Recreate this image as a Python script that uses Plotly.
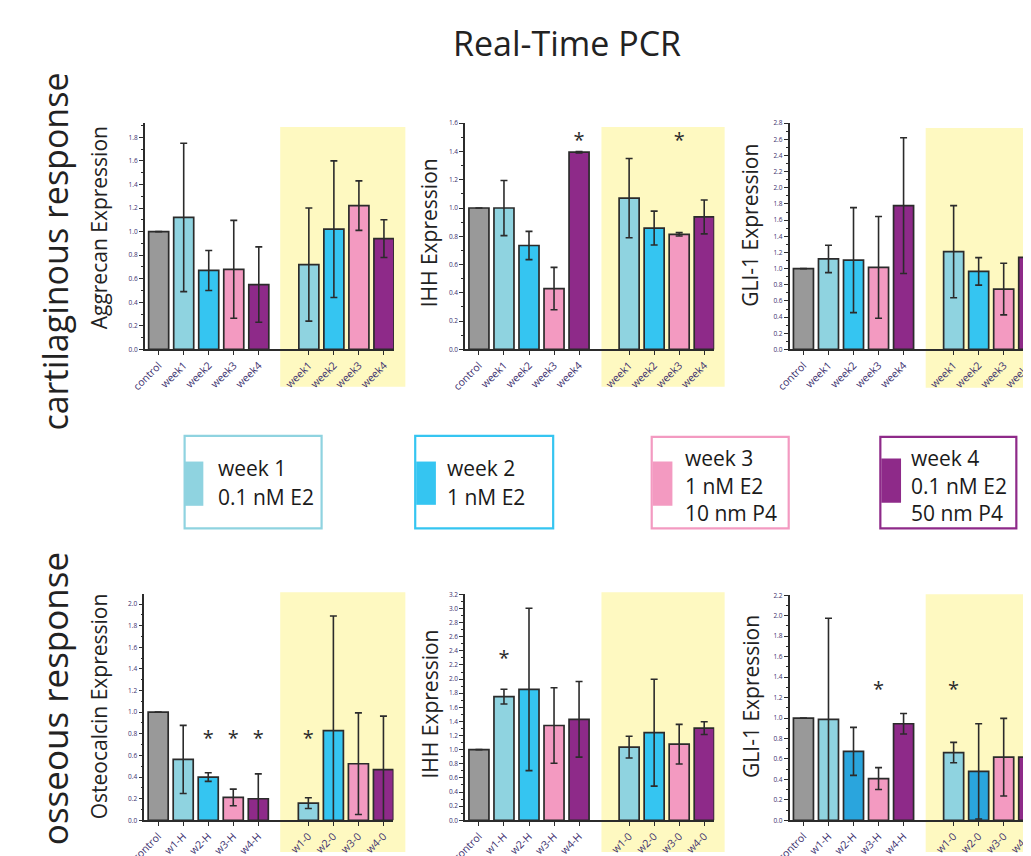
import plotly.graph_objects as go

W, H = 1031, 856
FONT = "Open Sans"

# ---------------- data ----------------
positions = [0, 1, 2, 3, 4, 6, 7, 8, 9]
labels_top = ["control", "week1", "week2", "week3", "week4", "week1", "week2", "week3", "week4"]
labels_bot = ["control", "w1-H", "w2-H", "w3-H", "w4-H", "w1-0", "w2-0", "w3-0", "w4-0"]

aggrecan_vals = [1.00, 1.12, 0.67, 0.68, 0.55, 0.72, 1.02, 1.22, 0.94]
aggrecan_err = [None, 0.63, 0.17, 0.415, 0.32, 0.48, 0.58, 0.21, 0.16]

ihh_top_vals = [1.00, 1.00, 0.735, 0.43, 1.395, 1.07, 0.858, 0.814, 0.937]
ihh_top_err = [None, 0.195, 0.10, 0.15, 0.005, 0.28, 0.12, 0.012, 0.12]
ihh_top_star_x = [4, 8]
ihh_top_star_y = [1.47, 1.47]

gli_top_vals = [1.00, 1.12, 1.105, 1.015, 1.78, 1.21, 0.966, 0.747, 1.14]
gli_top_err = [None, 0.17, 0.65, 0.63, 0.84, 0.57, 0.17, 0.32, 0.14]

osteo_vals = [1.00, 0.563, 0.40, 0.211, 0.199, 0.159, 0.829, 0.523, 0.468]
osteo_err = [None, 0.315, 0.04, 0.077, 0.23, 0.05, 1.06, 0.47, 0.495]
osteo_star_x = [2, 3, 4, 6]
osteo_star_y = [0.74, 0.74, 0.74, 0.74]

ihh_bot_vals = [1.00, 1.751, 1.853, 1.342, 1.43, 1.036, 1.24, 1.078, 1.305]
ihh_bot_err = [None, 0.105, 1.15, 0.535, 0.535, 0.155, 0.757, 0.28, 0.09]
ihh_bot_star_x = [1]
ihh_bot_star_y = [2.27]

gli_bot_vals = [1.00, 0.986, 0.674, 0.408, 0.944, 0.662, 0.478, 0.617, 0.617]
gli_bot_err = [None, 0.99, 0.235, 0.107, 0.10, 0.10, 0.466, 0.38, 0.34]
gli_bot_star_x = [3, 6]
gli_bot_star_y = [1.265, 1.265]

C_CTRL, C_W1, C_W2, C_W3, C_W4 = "#999999", "#8fd3e0", "#35c5f1", "#f39ac1", "#8e2a89"
C_W2_DARK = "#2aa5dd"
colors_std = [C_CTRL, C_W1, C_W2, C_W3, C_W4, C_W1, C_W2, C_W3, C_W4]
colors_gli_bot = [C_CTRL, C_W1, C_W2_DARK, C_W3, C_W4, C_W1, C_W2_DARK, C_W3, C_W4]

YELLOW = "#fef9c1"
TICKC = "#3b2f6e"
DARK = "#2b2b2b"


def X(px):
    return px / W


def Y(py):
    return 1 - py / H


panels = [
    dict(v=aggrecan_vals, e=aggrecan_err, lab=labels_top, col=colors_std, ymax=1.92, sx=[], sy=[],
         xl=123.7, yt=112, yb=342, title="Aggrecan Expression", tx=78, ty=218),
    dict(v=ihh_top_vals, e=ihh_top_err, lab=labels_top, col=colors_std, ymax=1.6, sx=ihh_top_star_x, sy=ihh_top_star_y,
         xl=448.7, yt=112, yb=342, title="IHH Expression", tx=412, ty=224),
    dict(v=gli_top_vals, e=gli_top_err, lab=labels_top, col=colors_std, ymax=2.8, sx=[], sy=[],
         xl=778, yt=112, yb=342, title="GLI-1 Expression", tx=738, ty=216),
    dict(v=osteo_vals, e=osteo_err, lab=labels_bot, col=colors_std, ymax=2.09, sx=osteo_star_x, sy=osteo_star_y,
         xl=123.2, yt=591, yb=820.7, title="Osteocalcin Expression", tx=78, ty=705),
    dict(v=ihh_bot_vals, e=ihh_bot_err, lab=labels_bot, col=colors_std, ymax=3.2, sx=ihh_bot_star_x, sy=ihh_bot_star_y,
         xl=448.7, yt=591, yb=820.7, title="IHH Expression", tx=412, ty=703),
    dict(v=gli_bot_vals, e=gli_bot_err, lab=labels_bot, col=colors_gli_bot, ymax=2.2, sx=gli_bot_star_x, sy=gli_bot_star_y,
         xl=778, yt=592, yb=820.7, title="GLI-1 Expression", tx=738, ty=695),
]

XR = [-0.55, 9.4]
UNIT = 25.4

fig = go.Figure()
layout = {}
annotations = []
shapes = []

# yellow background boxes
for (x0, x1, y0, y1) in [(261, 388, 116, 380), (587, 712, 116, 380), (916, 1031, 117, 381),
                         (261, 388, 589, 853), (587, 712, 589, 853), (916, 1031, 591, 853)]:
    shapes.append(dict(type="rect", xref="paper", yref="paper", x0=X(x0), x1=X(x1), y0=Y(y1), y1=Y(y0),
                       fillcolor=YELLOW, line=dict(width=0), layer="below"))

for i, p in enumerate(panels):
    n = i + 1
    xa = "x" if n == 1 else f"x{n}"
    ya = "y" if n == 1 else f"y{n}"
    xl = p["xl"]
    xr = xl + (XR[1] - XR[0]) * UNIT
    fig.add_trace(go.Bar(
        x=positions, y=p["v"], width=0.8, xaxis=xa, yaxis=ya,
        marker=dict(color=p["col"], line=dict(color=DARK, width=1.7)),
        error_y=dict(type="data", array=p["e"], symmetric=True, color=DARK, thickness=1.6, width=3.5),
        showlegend=False, hoverinfo="skip"))
    if p["sx"]:
        fig.add_trace(go.Scatter(
            x=p["sx"], y=p["sy"], mode="text", text=["*"] * len(p["sx"]),
            textfont=dict(size=20, color=DARK, family=FONT), xaxis=xa, yaxis=ya,
            showlegend=False, hoverinfo="skip"))
    layout[f"xaxis{'' if n == 1 else n}"] = dict(
        domain=[X(xl), min(X(xr), 1.0)], range=XR, anchor=ya,
        showline=True, linecolor=DARK, linewidth=1.7, showgrid=False, zeroline=False,
        ticks="outside", ticklen=4, tickwidth=1.2, tickcolor=DARK,
        tickvals=positions, ticktext=p["lab"], tickangle=-45,
        tickfont=dict(size=10.5, color=TICKC, family=FONT), fixedrange=True)
    layout[f"yaxis{'' if n == 1 else n}"] = dict(
        domain=[Y(p["yb"]), Y(p["yt"])], range=[0, p["ymax"]], anchor=xa,
        showline=True, linecolor=DARK, linewidth=1.7, showgrid=False, zeroline=False,
        ticks="outside", ticklen=4, tickwidth=1.2, tickcolor=DARK, dtick=0.2, tick0=0,
        tickformat=".1f", tickfont=dict(size=6.5, color=TICKC, family=FONT),
        minor=dict(ticks="outside", ticklen=2, tickwidth=1, tickcolor=DARK, dtick=0.1, tick0=0),
        fixedrange=True)
    annotations.append(dict(text=p["title"], x=X(p["tx"]), y=Y(p["ty"]), xref="paper", yref="paper",
                            textangle=-90, showarrow=False, xanchor="center", yanchor="middle",
                            font=dict(size=21, color="#222222", family=FONT)))

# title and row labels
annotations.append(dict(text="Real-Time PCR", x=X(552), y=Y(30), xref="paper", yref="paper", showarrow=False,
                        xanchor="center", yanchor="middle", font=dict(size=34, color="#222222", family=FONT)))
annotations.append(dict(text="cartilaginous response", x=X(32), y=Y(243), xref="paper", yref="paper",
                        showarrow=False, textangle=-90, xanchor="center", yanchor="middle",
                        font=dict(size=34, color="#222222", family=FONT)))
annotations.append(dict(text="osseous response", x=X(32), y=Y(697), xref="paper", yref="paper",
                        showarrow=False, textangle=-90, xanchor="center", yanchor="middle",
                        font=dict(size=35, color="#222222", family=FONT)))

# legend boxes
legend_items = [
    (C_W1, 164, 303, 430, 524, 164, 183, 456, 501, 196, ["week 1", "0.1 nM E2"], [463, 492]),
    (C_W2, 398, 538, 430, 524, 399, 419, 456, 500, 428, ["week 2", "1 nM E2"], [463, 492]),
    (C_W3, 638, 777, 431, 524, 639, 659, 456, 501, 670, ["week 3", "1 nM E2", "10 nm P4"], [452, 481, 508]),
    (C_W4, 870, 1008, 431, 524, 871, 891, 453, 498, 899, ["week 4", "0.1 nM E2", "50 nm P4"], [452, 481, 508]),
]
for (c, bx0, bx1, by0, by1, sx0, sx1, sy0, sy1, tx, lines, lys) in legend_items:
    shapes.append(dict(type="rect", xref="paper", yref="paper", x0=X(bx0), x1=X(bx1), y0=Y(by1), y1=Y(by0),
                       line=dict(color=c, width=2.2), fillcolor="rgba(0,0,0,0)"))
    shapes.append(dict(type="rect", xref="paper", yref="paper", x0=X(sx0), x1=X(sx1), y0=Y(sy1), y1=Y(sy0),
                       line=dict(width=0), fillcolor=c))
    for t, ly in zip(lines, lys):
        annotations.append(dict(text=t, x=X(tx), y=Y(ly), xref="paper", yref="paper", showarrow=False,
                                xanchor="left", yanchor="middle",
                                font=dict(size=21, color="#1a1a1a", family=FONT)))

fig.update_layout(
    width=W, height=H, margin=dict(l=0, r=0, t=0, b=0),
    paper_bgcolor="white", plot_bgcolor="rgba(0,0,0,0)",
    font=dict(family=FONT), shapes=shapes, annotations=annotations, bargap=0.2,
    **layout)

fig.write_html("out.html")
